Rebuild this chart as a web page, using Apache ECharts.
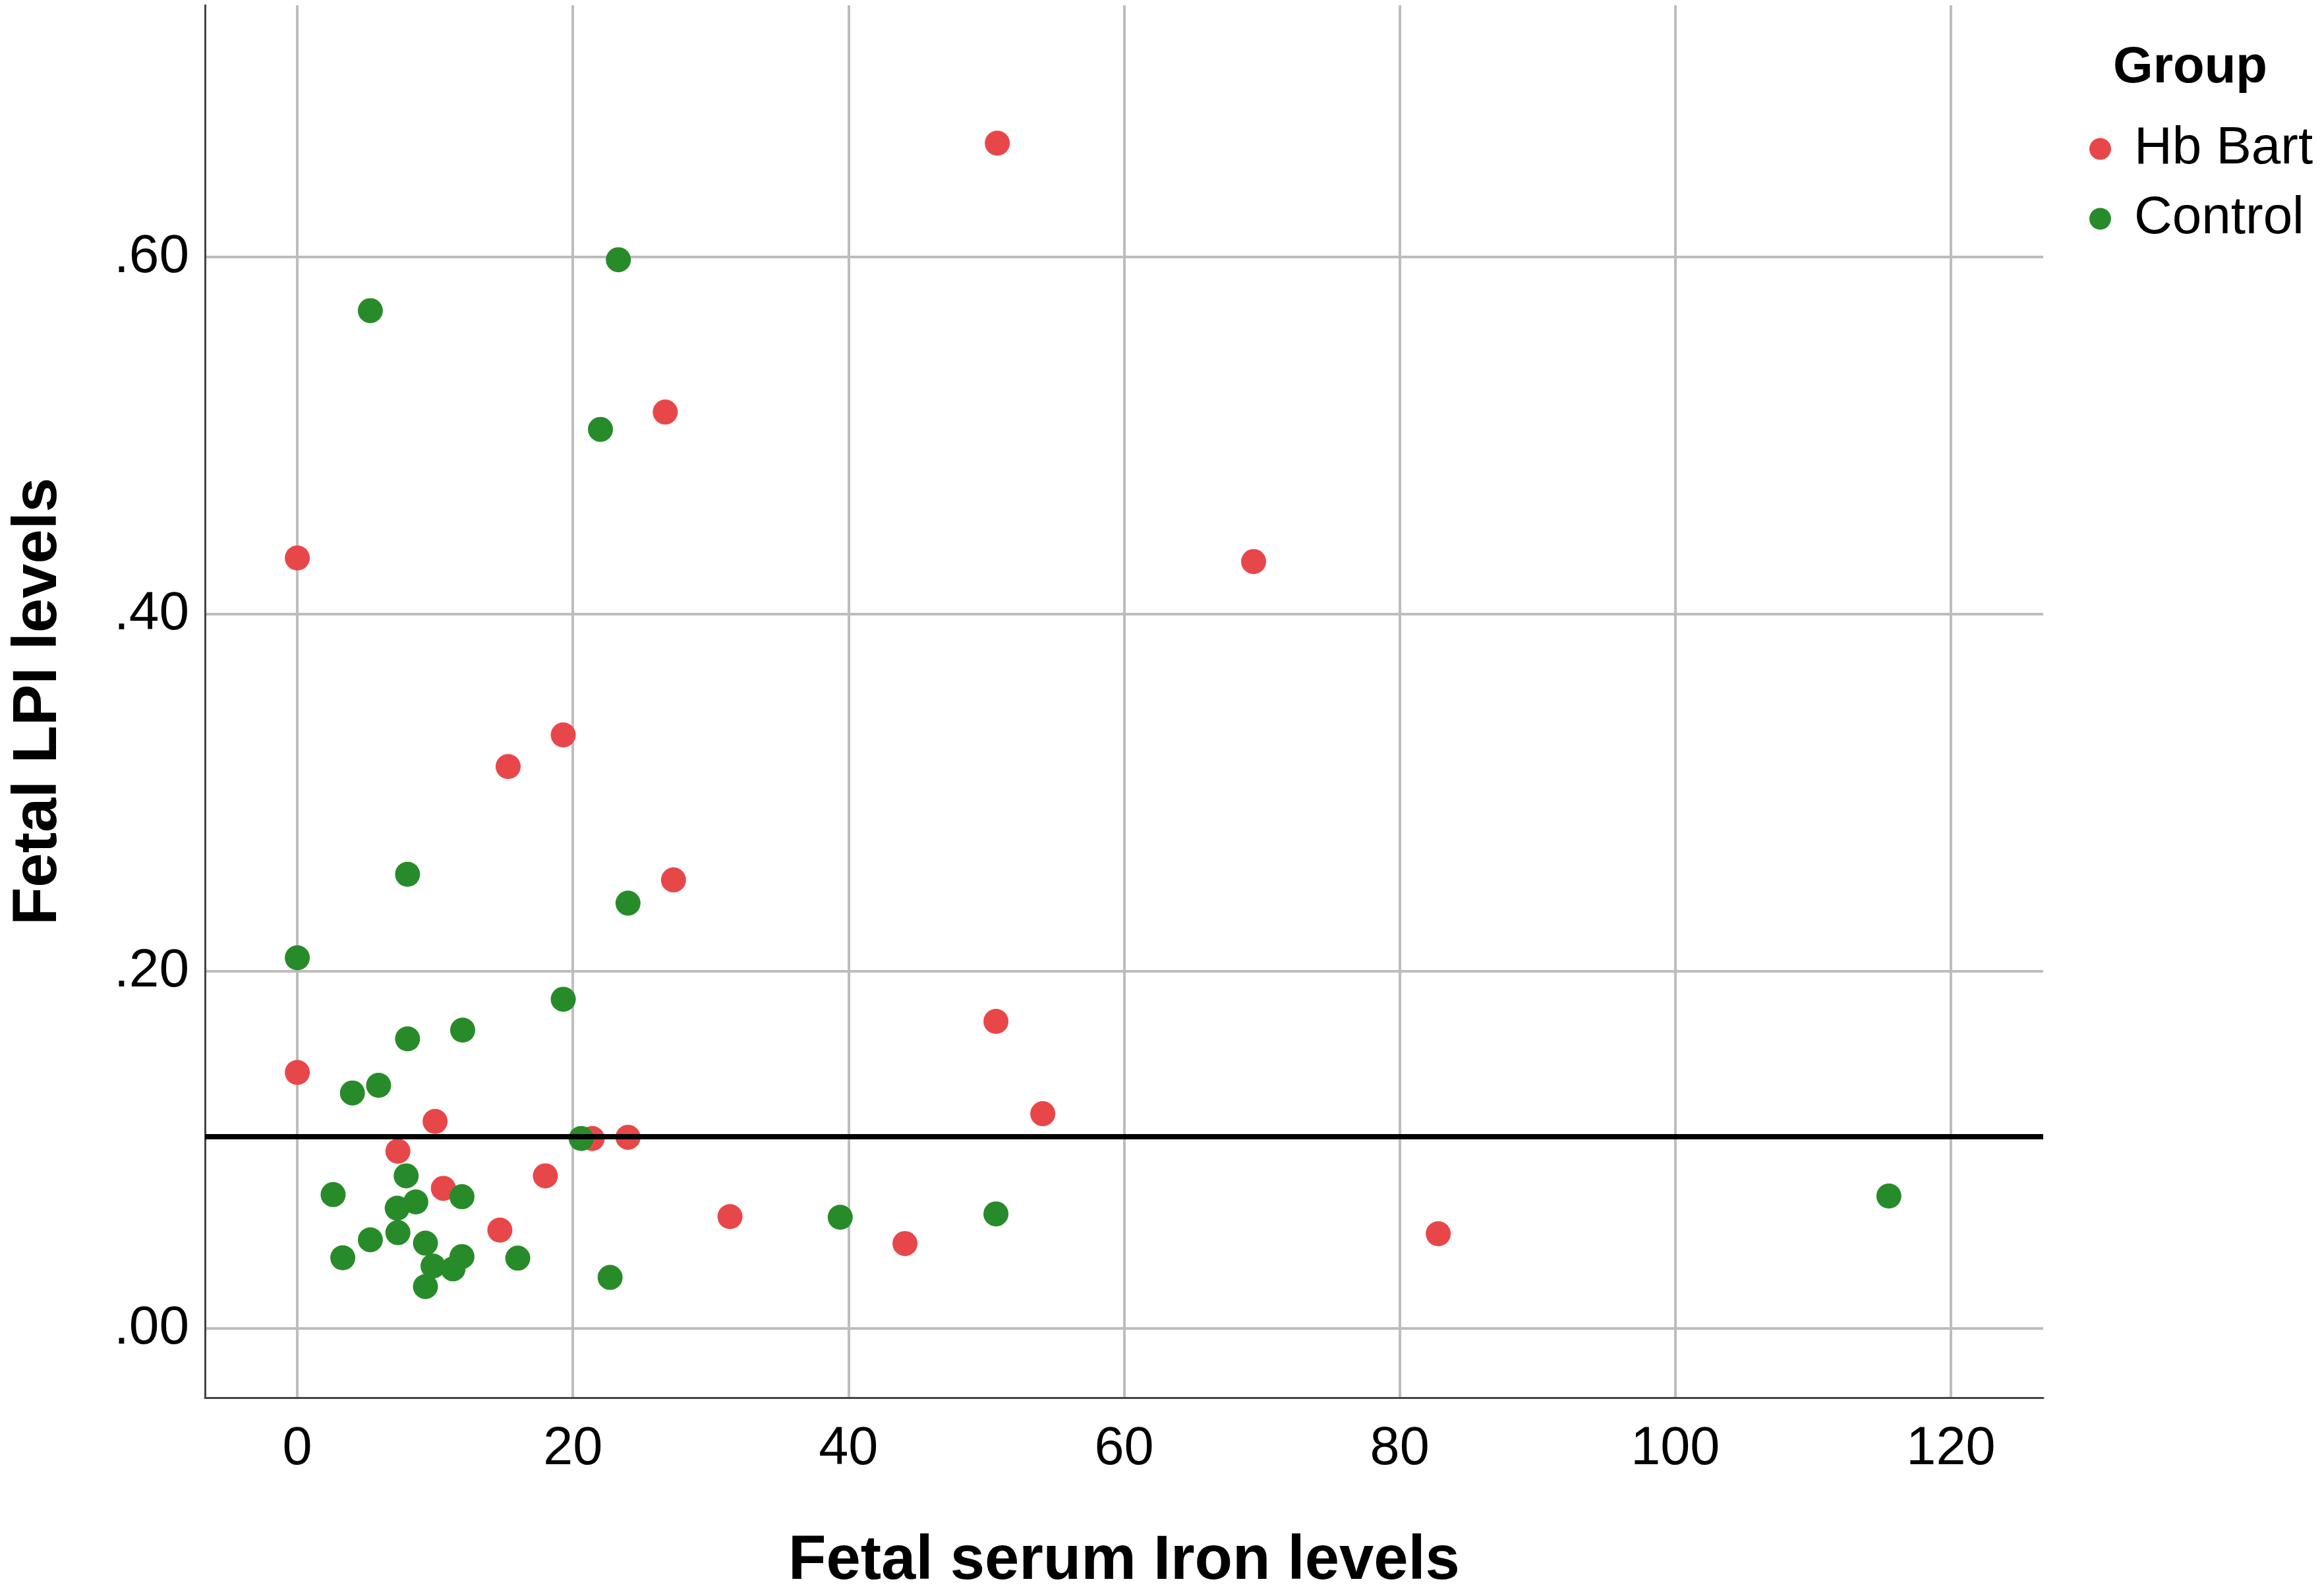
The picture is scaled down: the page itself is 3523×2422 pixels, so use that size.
<!DOCTYPE html>
<html>
<head>
<meta charset="utf-8">
<script src="https://cdn.jsdelivr.net/npm/echarts@6/dist/echarts.min.js"></script>
<style>
html,body{margin:0;padding:0;background:#fff;}
#chart{width:3523px;height:2422px;}
</style>
</head>
<body>
<div id="chart"></div>
<script>
// ---- data ----
const seriesNames = ['Hb Bart', 'Control'];

const hbBartIron = [0, 0, 10.0, 21.4, 24.0, 7.3, 18.0, 10.6, 14.7, 31.4, 26.7, 19.3, 15.3, 27.3, 50.8, 69.4, 50.7, 54.1, 44.1, 82.8];
const hbBartLPI  = [0.4315, 0.1434, 0.1160, 0.1064, 0.1071, 0.0993, 0.0855, 0.0785, 0.0551, 0.0627, 0.5132, 0.3324, 0.3147, 0.2512, 0.6638, 0.4295, 0.1720, 0.1203, 0.0476, 0.0531];

const controlIron = [23.3, 5.3, 22.0, 8.0, 24.0, 0, 19.3, 12.0, 8.0, 5.9, 4.0, 20.6, 7.9, 2.6, 11.95, 8.6, 7.25, 7.3, 5.3, 9.3, 11.95, 3.3, 9.85, 11.3, 16.0, 9.3, 22.7, 39.4, 50.7, 115.5];
const controlLPI  = [0.5985, 0.5700, 0.5035, 0.2544, 0.2382, 0.2076, 0.1844, 0.1671, 0.1622, 0.1362, 0.1319, 0.1064, 0.0855, 0.0750, 0.0738, 0.0709, 0.0674, 0.0537, 0.0497, 0.0478, 0.0403, 0.0396, 0.0350, 0.0334, 0.0394, 0.0235, 0.0286, 0.0623, 0.0642, 0.0742];

const referenceLPI = 0.1075;

const xTickValues = [0, 20, 40, 60, 80, 100, 120];
const xTickLabels = ['0', '20', '40', '60', '80', '100', '120'];
const yTickValues = [0, 0.2, 0.4, 0.6];
const yTickLabels = ['.00', '.20', '.40', '.60'];

const xAxisTitle = 'Fetal serum Iron levels';
const yAxisTitle = 'Fetal LPI levels';
const legendTitle = 'Group';

// ---- build ----
const zip = (a, b) => a.map((v, i) => [v, b[i]]);
const labelFor = (vals, labels) => v => {
  for (let i = 0; i < vals.length; i++) if (Math.abs(vals[i] - v) < 1e-6) return labels[i];
  return '';
};

const FONT = '"Liberation Sans", Arial, Helvetica, sans-serif';
const RED = '#E8474A';
const GREEN = '#288B2A';

const chart = echarts.init(document.getElementById('chart'), null, {renderer: 'canvas'});
chart.setOption({
  backgroundColor: '#ffffff',
  animation: false,
  textStyle: {fontFamily: FONT},
  title: {
    text: legendTitle,
    left: 3206, top: 64, padding: 0,
    textStyle: {fontFamily: FONT, fontSize: 78, fontWeight: 'bold', color: '#000'}
  },
  legend: {
    data: seriesNames,
    orient: 'vertical',
    left: 3170, top: 186, padding: 0,
    itemWidth: 33, itemHeight: 33, itemGap: 26,
    icon: 'circle',
    symbolKeepAspect: true,
    textStyle: {fontFamily: FONT, fontSize: 80, color: '#000', padding: [0, 0, 0, 30]}
  },
  grid: {left: 311, right: 423, top: 8, bottom: 301},
  xAxis: {
    type: 'value',
    min: -6.7, max: 126.7,
    splitNumber: 7, minInterval: 20, maxInterval: 20,
    name: xAxisTitle,
    nameLocation: 'middle',
    nameGap: 202,
    nameTextStyle: {fontFamily: FONT, fontSize: 94, fontWeight: 'bold', color: '#000'},
    axisLine: {show: true, onZero: false, lineStyle: {color: '#444', width: 3}},
    axisTick: {show: false},
    axisLabel: {
      fontFamily: FONT, fontSize: 81, color: '#000', margin: 38,
      showMinLabel: false, showMaxLabel: false,
      formatter: labelFor(xTickValues, xTickLabels)
    },
    splitLine: {show: true, showMinLine: false, showMaxLine: false, lineStyle: {color: '#BDBDBD', width: 4}}
  },
  yAxis: {
    type: 'value',
    min: -0.0387, max: 0.741,
    splitNumber: 4, minInterval: 0.2, maxInterval: 0.2,
    name: yAxisTitle,
    nameLocation: 'middle',
    nameGap: 205,
    nameRotate: 90,
    nameTextStyle: {fontFamily: FONT, fontSize: 94, fontWeight: 'bold', color: '#000'},
    axisLine: {show: true, onZero: false, lineStyle: {color: '#444', width: 3}},
    axisTick: {show: false},
    axisLabel: {
      fontFamily: FONT, fontSize: 82, color: '#000', margin: 24,
      showMinLabel: false, showMaxLabel: false,
      formatter: labelFor(yTickValues, yTickLabels)
    },
    splitLine: {show: true, showMinLine: false, showMaxLine: false, lineStyle: {color: '#BDBDBD', width: 4}}
  },
  series: [
    {
      name: seriesNames[0],
      type: 'scatter',
      symbol: 'circle',
      symbolSize: 38,
      itemStyle: {color: RED, opacity: 1},
      data: zip(hbBartIron, hbBartLPI),
      z: 2
    },
    {
      name: seriesNames[1],
      type: 'scatter',
      symbol: 'circle',
      symbolSize: 38,
      itemStyle: {color: GREEN, opacity: 1},
      data: zip(controlIron, controlLPI),
      z: 3,
      markLine: {
        silent: true,
        precision: 4,
        symbol: ['none', 'none'],
        label: {show: false},
        lineStyle: {color: '#000', width: 8, type: 'solid'},
        z: 10,
        data: [{yAxis: referenceLPI}]
      }
    }
  ]
});
</script>
</body>
</html>
